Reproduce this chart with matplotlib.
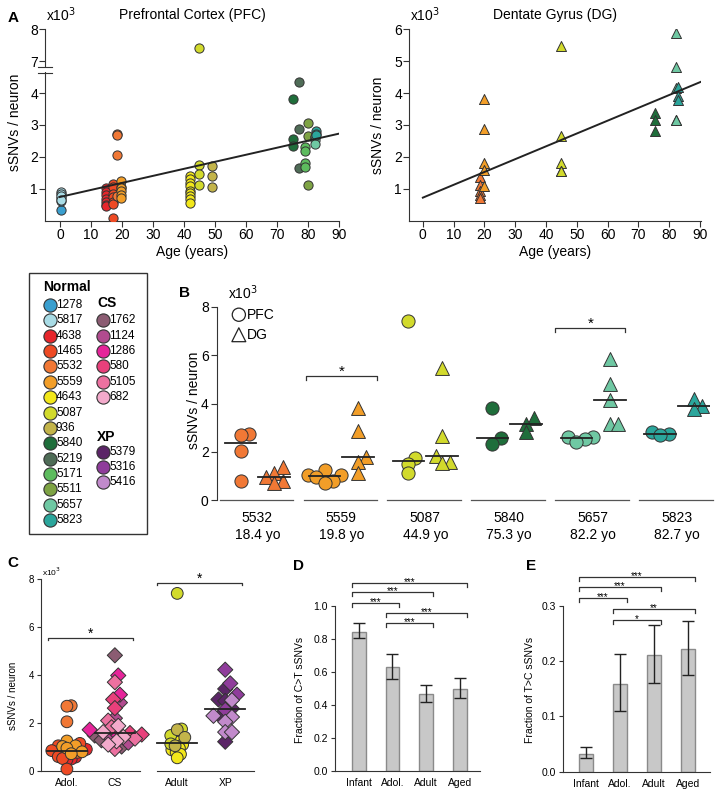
import numpy as np
import matplotlib
matplotlib.use("Agg")
import matplotlib.pyplot as plt
import matplotlib.transforms as mtrans
from matplotlib.patches import Rectangle

plt.rcParams['font.family'] = ['Liberation Sans', 'DejaVu Sans']
plt.rcParams['axes.linewidth'] = 0.8
plt.rcParams['axes.edgecolor'] = '#333333'
plt.rcParams['xtick.color'] = '#333333'
plt.rcParams['ytick.color'] = '#333333'
plt.rcParams['xtick.labelcolor'] = 'black'
plt.rcParams['ytick.labelcolor'] = 'black'

# ---- data ----
donors = ['1278', '5817', '4638', '1465', '5532', '5559', '4643', '5087', '936',
          '5840', '5219', '5171', '5511', '5657', '5823']
donor_colors = ['#3A9FCF', '#A9DCE6', '#E6262C', '#EE4A24', '#F17835', '#F29E28',
                '#F2E71A', '#D2DA2C', '#C3B44A', '#1F6E3B', '#4F6C57', '#5DBB5E',
                '#7EA344', '#6FC8A3', '#2BA69C']
donor_ages = [0.3, 0.3, 15.0, 17.2, 18.4, 19.8, 42.0, 44.9, 49.0,
              75.3, 77.0, 79.0, 80.0, 82.2, 82.7]
# sSNVs per neuron (x10^3), prefrontal cortex
pfc_values = [
    [0.35, 0.62, 0.72],
    [0.92, 0.85, 0.78, 0.66],
    [1.02, 0.90, 0.80, 0.70, 0.58, 0.50, 0.47],
    [1.15, 1.05, 0.85, 0.75, 0.60, 0.52, 0.08],
    [2.72, 2.70, 2.05, 0.78],
    [1.25, 1.05, 1.02, 0.95, 0.80, 0.72],
    [1.40, 1.30, 1.20, 1.10, 0.95, 0.88, 0.78, 0.70, 0.55],
    [7.40, 1.75, 1.48, 1.13],
    [1.72, 1.40, 1.05],
    [3.80, 2.55, 2.33],
    [4.33, 2.87, 1.67],
    [2.30, 2.18, 1.82, 1.68],
    [3.07, 2.66, 1.14],
    [2.63, 2.63, 2.52, 2.42],
    [2.82, 2.73, 2.70],
]
# dentate gyrus
dg_donors = ['5532', '5559', '5087', '5840', '5657', '5823']
dg_values = [
    [1.36, 1.13, 0.94, 0.80, 0.72],
    [3.80, 2.87, 1.80, 1.58, 1.10],
    [5.48, 2.65, 1.82, 1.57, 1.55],
    [3.38, 3.17, 2.80],
    [5.86, 4.80, 4.15, 3.17, 3.17],
    [4.20, 3.90, 3.78],
]
pfc_fit = (0.75, 0.022)    # intercept, slope
dg_fit = (0.73, 0.0401)

cs_donors = ['1762', '1124', '1286', '580', '5105', '682']
cs_colors = ['#8B5C72', '#B14B8F', '#E6249A', '#E8407B', '#EC71A0', '#F3AACB']
cs_values = [
    [4.82, 1.48, 1.28, 1.02],
    [2.85, 2.20, 1.42, 1.18],
    [3.98, 3.18, 1.72, 1.56],
    [2.98, 2.62, 1.58, 1.52],
    [3.70, 2.10, 1.82, 0.92, 1.35],
    [1.88, 1.62, 1.42, 1.24, 1.10],
]
xp_donors = ['5379', '5316', '5416']
xp_colors = ['#5B2567', '#8F3C9B', '#C18ACB']
xp_values = [
    [3.42, 2.98, 2.92, 2.60, 2.30, 1.22],
    [4.22, 3.65, 3.18, 2.55],
    [2.95, 2.30, 2.25, 2.05, 1.62, 1.62],
]
adol_donors = ['4638', '1465', '5532', '5559']
adult_donors = ['4643', '5087', '936']
c_groups = ['Adol.', 'CS', 'Adult', 'XP']

bar_groups = ['Infant', 'Adol.', 'Adult', 'Aged']
ct_frac = [0.845, 0.628, 0.466, 0.495]
ct_lo = [0.805, 0.555, 0.421, 0.443]
ct_hi = [0.895, 0.712, 0.523, 0.563]
tc_frac = [0.032, 0.159, 0.211, 0.222]
tc_lo = [0.025, 0.110, 0.160, 0.175]
tc_hi = [0.044, 0.213, 0.265, 0.273]
ct_sig = [(0, 3, '***'), (0, 2, '***'), (0, 1, '***'), (1, 3, '***'), (1, 2, '***')]
tc_sig = [(0, 3, '***'), (0, 2, '***'), (0, 1, '***'), (1, 3, '**'), (1, 2, '*')]
ct_sig_y = [1.14, 1.087, 1.02, 0.958, 0.895]
tc_sig_y = [0.353, 0.334, 0.314, 0.294, 0.275]

W, H = 720, 798
fig = plt.figure(figsize=(7.2, 7.98), dpi=100)


def add_ax(l, t, r, b):
    ax = fig.add_axes([l / W, 1 - b / H, (r - l) / W, (b - t) / H])
    ax.spines['top'].set_visible(False)
    ax.spines['right'].set_visible(False)
    return ax


def ftext(x, y, s, **kw):
    kw.setdefault('ha', 'center')
    kw.setdefault('va', 'center')
    fig.text(x / W, 1 - y / H, s, **kw)


def vals_of(name):
    return pfc_values[donors.index(name)]


def col_of(name):
    return donor_colors[donors.index(name)]


def swarm(vals, dx, dy, frac=0.25):
    vals = np.asarray(vals, float)
    offs = np.zeros(len(vals))
    placed = []
    steps = [0.0]
    for k in range(1, 80):
        steps += [k * dx * frac, -k * dx * frac]
    for i in np.argsort(vals):
        for c in steps:
            if all(((c - px) / dx) ** 2 + ((vals[i] - py) / dy) ** 2 >= 1 for px, py in placed):
                break
        placed.append((c, vals[i]))
        offs[i] = c
    return offs


def bracket(ax, x0, x1, y, h, label, fs, dy_pt=-1.5):
    ax.plot([x0, x0, x1, x1], [y - h, y, y, y - h], color='#333333', lw=0.9, clip_on=False)
    ax.annotate(label, ((x0 + x1) / 2, y), xytext=(0, dy_pt), textcoords='offset points',
                ha='center', va='baseline', fontsize=fs, annotation_clip=False)


edge = '#333333'

# ---- A: PFC (broken axis: 7 and 8 drawn at 5 and 6) ----
def brk(v):
    v = np.asarray(v, float)
    return np.where(v > 5, v - 2, v)


axA = add_ax(45, 29, 339, 221)
for name, col, age, v in zip(donors, donor_colors, donor_ages, pfc_values):
    axA.scatter(np.full(len(v), age), brk(v), s=44, c=col, edgecolors=edge,
                linewidths=0.7, zorder=3)
xs = np.array([0, 90])
axA.plot(xs, pfc_fit[0] + pfc_fit[1] * xs, color='#222222', lw=1.4, zorder=4)
axA.set_xlim(-4.8, 90)
axA.set_ylim(0, 6)
axA.set_xticks(range(0, 91, 10))
axA.set_yticks([1, 2, 3, 4, 5, 6])
axA.set_yticklabels(['1', '2', '3', '4', '7', '8'])
axA.tick_params(labelsize=10, length=4, pad=1)
tr = mtrans.blended_transform_factory(axA.transAxes, axA.transData)
axA.add_patch(Rectangle((-0.03, 4.66), 0.06, 0.12, transform=tr, facecolor='white',
                        edgecolor='none', clip_on=False, zorder=5))
for yb in (4.64, 4.8):
    axA.plot([-0.025, 0.025], [yb, yb], transform=tr, color=edge, lw=0.8,
             clip_on=False, zorder=6)

# ---- A: DG ----
axD = add_ax(409, 29, 701, 221)
for name, v in zip(dg_donors, dg_values):
    axD.scatter(np.full(len(v), donor_ages[donors.index(name)]), v, s=52, marker='^',
                c=col_of(name), edgecolors=edge, linewidths=0.7, zorder=3)
xs = np.array([0, 91])
axD.plot(xs, dg_fit[0] + dg_fit[1] * xs, color='#222222', lw=1.4, zorder=4)
axD.set_xlim(-4.5, 90.3)
axD.set_ylim(0, 6)
axD.set_xticks(range(0, 91, 10))
axD.set_yticks(range(1, 7))
axD.tick_params(labelsize=10, length=4, pad=1)

ftext(13, 18, 'A', fontsize=11, fontweight='bold')
ftext(46, 15, r'x10$^3$', fontsize=10, ha='left')
ftext(410, 15, r'x10$^3$', fontsize=10, ha='left')
ftext(192, 15, 'Prefrontal Cortex (PFC)', fontsize=10)
ftext(555, 15, 'Dentate Gyrus (DG)', fontsize=10)
ftext(15, 122, 'sSNVs / neuron', fontsize=10, rotation=90)
ftext(378, 125, 'sSNVs / neuron', fontsize=10, rotation=90)
ftext(192, 252, 'Age (years)', fontsize=10)
ftext(555, 252, 'Age (years)', fontsize=10)

# ---- legend box ----
ov = fig.add_axes([0, 0, 1, 1], zorder=-1)
ov.set_xlim(0, W)
ov.set_ylim(H, 0)
ov.axis('off')
ov.add_patch(Rectangle((29, 273), 118, 261, fill=False, edgecolor='#333333', lw=1))
row0, step = 305, 15.36
ov.text(43, 287, 'Normal', fontsize=10, fontweight='bold', va='center')
for k, (name, col) in enumerate(zip(donors, donor_colors)):
    ov.plot(50, row0 + k * step, 'o', ms=9.5, mfc=col, mec=edge, mew=0.8)
    ov.text(56, row0 + k * step, name, fontsize=8.5, va='center')
ov.text(97, 303, 'CS', fontsize=10, fontweight='bold', va='center')
for k, (name, col) in enumerate(zip(cs_donors, cs_colors)):
    ov.plot(103, row0 + (k + 1) * step, 'o', ms=9.5, mfc=col, mec=edge, mew=0.8)
    ov.text(109, row0 + (k + 1) * step, name, fontsize=8.5, va='center')
ov.text(97, 437, 'XP', fontsize=10, fontweight='bold', va='center')
for k, (name, col) in enumerate(zip(xp_donors, xp_colors)):
    ov.plot(103, 452.3 + k * 15, 'o', ms=9.5, mfc=col, mec=edge, mew=0.8)
    ov.text(109, 452.3 + k * 15, name, fontsize=8.5, va='center')

# ---- B ----
axB = add_ax(217, 307, 710, 500)
axB.spines['bottom'].set_visible(False)
for i, name in enumerate(dg_donors):
    col = col_of(name)
    pv = np.array(vals_of(name))
    dv = np.array(dg_values[i])
    for v, ctr, mk, s in ((pv, i - 0.2, 'o', 90), (dv, i + 0.2, '^', 100)):
        off = swarm(v, 0.1, 0.35)
        axB.scatter(ctr + off, v, s=s, marker=mk, c=col, edgecolors=edge,
                    linewidths=0.7, zorder=3)
        m = np.median(v)
        axB.plot([ctr - 0.19, ctr + 0.19], [m, m], color='#222222', lw=1.3, zorder=4)
    axB.plot([i - 0.45, i + 0.42], [0, 0], color='#555555', lw=0.9, clip_on=False)
axB.set_xlim(-0.48, 5.39)
axB.set_ylim(0, 8)
axB.set_yticks([0, 2, 4, 6, 8])
axB.set_xticks(range(len(dg_donors)))
axB.set_xticklabels([f"{n}\n{donor_ages[donors.index(n)]:.1f} yo" for n in dg_donors],
                    linespacing=1.25)
axB.tick_params(axis='y', labelsize=10, length=4, pad=2)
axB.tick_params(axis='x', labelsize=10, length=0, pad=8)
bracket(axB, 1 - 0.42, 1 + 0.42, 5.15, 0.17, '*', 11, dy_pt=0)
bracket(axB, 4 - 0.45, 4 + 0.38, 7.13, 0.17, '*', 11, dy_pt=0)
axB.scatter([-0.22], [7.68], s=90, marker='o', facecolors='none', edgecolors='#222222',
            linewidths=0.9, clip_on=False)
axB.scatter([-0.22], [6.85], s=100, marker='^', facecolors='none', edgecolors='#222222',
            linewidths=0.9, clip_on=False)
axB.text(-0.13, 7.68, 'PFC', fontsize=10, va='center')
axB.text(-0.13, 6.85, 'DG', fontsize=10, va='center')
ftext(185, 293, 'B', fontsize=11, fontweight='bold')
ftext(228, 293, r'x10$^3$', fontsize=10, ha='left')
ftext(194, 400, 'sSNVs / neuron', fontsize=10, rotation=90)

# ---- C ----
axC = add_ax(41, 579, 254, 771)
axC.spines['bottom'].set_visible(False)
c_pos = [0, 1, 2.3, 3.3]
adol_v = np.concatenate([vals_of(n) for n in adol_donors])
adol_c = sum([[col_of(n)] * len(vals_of(n)) for n in adol_donors], [])
cs_v = np.concatenate(cs_values)
cs_c = sum([[c] * len(v) for c, v in zip(cs_colors, cs_values)], [])
adult_v = np.concatenate([vals_of(n) for n in adult_donors])
adult_c = sum([[col_of(n)] * len(vals_of(n)) for n in adult_donors], [])
xp_v = np.concatenate(xp_values)
xp_c = sum([[c] * len(v) for c, v in zip(xp_colors, xp_values)], [])
for pos, v, cols, mk, s, sw in ((c_pos[0], adol_v, adol_c, 'o', 72, (0.09, 0.21)),
                                (c_pos[1], cs_v, cs_c, 'D', 60, (0.14, 0.32)),
                                (c_pos[2], adult_v, adult_c, 'o', 72, (0.09, 0.21)),
                                (c_pos[3], xp_v, xp_c, 'D', 60, (0.14, 0.32))):
    off = swarm(v, *sw)
    axC.scatter(pos + off, v, s=s, marker=mk, c=cols, edgecolors=edge, linewidths=0.7,
                zorder=3, clip_on=False)
    m = np.median(v)
    axC.plot([pos - 0.42, pos + 0.42], [m, m], color='#222222', lw=1.3, zorder=4)
axC.plot([-0.54, 1.52], [0, 0], color='#333333', lw=0.8, clip_on=False)
axC.plot([1.875, 3.9], [0, 0], color='#333333', lw=0.8, clip_on=False)
axC.set_xlim(-0.54, 3.9)
axC.set_ylim(0, 8)
axC.set_yticks([0, 2, 4, 6, 8])
axC.set_xticks(c_pos)
axC.set_xticklabels(c_groups)
axC.tick_params(axis='y', labelsize=7, length=3, pad=2)
axC.tick_params(axis='x', labelsize=7.5, length=0, pad=5)
bracket(axC, -0.4, 1.38, 5.56, 0.12, '*', 10, dy_pt=0)
bracket(axC, 1.875, 3.65, 7.85, 0.12, '*', 10, dy_pt=0)
ftext(13, 563, 'C', fontsize=11, fontweight='bold')
ftext(42, 572, r'x10$^3$', fontsize=6, ha='left')
ftext(13, 696, 'sSNVs / neuron', fontsize=7, rotation=90)

# ---- D and E ----
def bar_panel(box, frac, lo, hi, sig, sig_y, ylim, yticks, xlim, ylabel, lab_x, letter, let_x):
    ax = add_ax(*box)
    x = np.arange(len(bar_groups))
    f = np.array(frac)
    err = [f - np.array(lo), np.array(hi) - f]
    ax.bar(x, f, width=0.41, color='#C8C8C8', edgecolor='#8A8A8A', lw=1)
    ax.errorbar(x, f, yerr=err, fmt='none', ecolor='#222222', elinewidth=1, capsize=4,
                capthick=1)
    ax.set_xlim(*xlim)
    ax.set_ylim(*ylim)
    ax.set_yticks(yticks)
    ax.set_yticklabels([f"{t:.1f}" for t in yticks])
    ax.set_xticks(x)
    ax.set_xticklabels(bar_groups)
    ax.tick_params(axis='y', labelsize=7.5, length=3, pad=2)
    ax.tick_params(axis='x', labelsize=7.5, length=0, pad=5)
    h = (ylim[1] - ylim[0]) * 0.025
    for (a, b, lab), yy in zip(sig, sig_y):
        bracket(ax, a - 0.205, b + 0.205, yy, h, lab, 7)
    ftext(lab_x, 690, ylabel, fontsize=7.5, rotation=90)
    ftext(let_x, 566, letter, fontsize=11, fontweight='bold')
    return ax


bar_panel((335, 606, 480, 771), ct_frac, ct_lo, ct_hi, ct_sig, ct_sig_y, (0, 1.0),
          [0.0, 0.2, 0.4, 0.6, 0.8, 1.0], (-0.70, 3.59), 'Fraction of C>T sSNVs', 300, 'D', 298)
bar_panel((563, 606, 710, 771.7), tc_frac, tc_lo, tc_hi, tc_sig, tc_sig_y, (0, 0.3),
          [0.0, 0.1, 0.2, 0.3], (-0.66, 3.65), 'Fraction of T>C sSNVs', 530, 'E', 531)

fig.savefig('out.png', dpi=100)
